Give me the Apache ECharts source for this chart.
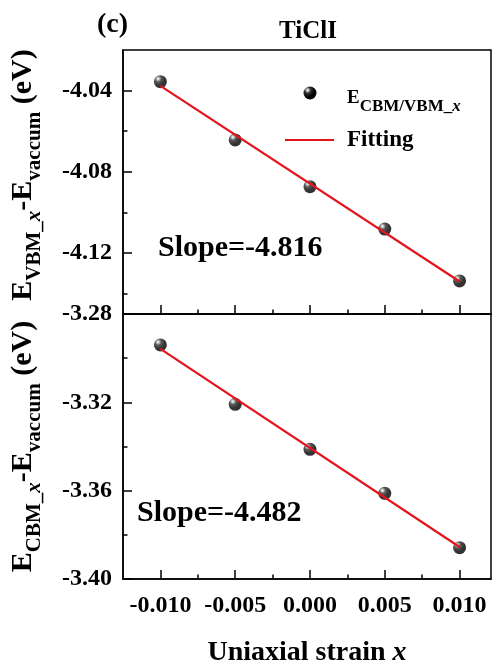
<!DOCTYPE html>
<html><head><meta charset="utf-8">
<script src="https://cdn.jsdelivr.net/npm/echarts@6/dist/echarts.min.js"></script>
<style>html,body{margin:0;padding:0;background:#fff}#c{width:494px;height:669px}</style>
</head><body><div id="c"></div>
<script>
// ---- data ----
const strain = [-0.010, -0.005, 0.000, 0.005, 0.010];
const vbmEnergy = [-4.0356, -4.0643, -4.0873, -4.1082, -4.1337];
const cbmEnergy = [-3.2940, -3.3209, -3.3413, -3.3612, -3.3858];
const fitStrain = [-0.010, 0.010];
const vbmFit = [-4.0377, -4.1340];
const cbmFit = [-3.2958, -3.3855];
const xMajorTicks = [-0.010, -0.005, 0.000, 0.005, 0.010];
const xMinorTicks = [-0.0075, -0.0025, 0.0025, 0.0075];
const vbmMajorTicks = [-4.12, -4.08, -4.04];
const vbmMinorTicks = [-4.14, -4.10, -4.06];
const cbmMajorTicks = [-3.40, -3.36, -3.32, -3.28];
const cbmMinorTicks = [-3.38, -3.34, -3.30];
const panelLabel = '(c)';
const chartTitle = 'TiClI';
const slopeVbm = 'Slope=-4.816';
const slopeCbm = 'Slope=-4.482';
const pointName = 'E_CBM/VBM_x';
const fitName = 'Fitting';

const FONT = "'Liberation Serif','Times New Roman',serif";
const BLACK = '#000';
const RED = '#e3141c';

const ball = () => ({
  type: 'radial', x: 0.32, y: 0.28, r: 0.8,
  colorStops: [
    {offset: 0, color: '#ffffff'},
    {offset: 0.1, color: '#c8c8c8'},
    {offset: 0.3, color: '#303030'},
    {offset: 0.65, color: '#000000'},
    {offset: 1, color: '#000000'}
  ]
});

function nameRich(shift) {
  return {
    m: {fontSize: 30, fontWeight: 'bold', fontFamily: FONT, color: BLACK, lineHeight: 32, padding: [0, 0, 7, 0], verticalAlign: 'bottom'},
    p: {fontSize: 30, fontWeight: 'bold', fontFamily: FONT, color: BLACK, lineHeight: 32, padding: [0, 0, 7, shift], verticalAlign: 'bottom'},
    s: {fontSize: 21, fontWeight: 'bold', fontFamily: FONT, color: BLACK, lineHeight: 22, verticalAlign: 'bottom'},
    i: {fontSize: 21, fontWeight: 'bold', fontStyle: 'italic', fontFamily: FONT, color: BLACK, lineHeight: 22, verticalAlign: 'bottom'}
  };
}

function majorX(grid, showLabels) {
  const ax = {
    gridIndex: grid, type: 'value', position: 'bottom',
    min: -0.0125, max: 0.0121,
    axisLine: {show: true, onZero: false, lineStyle: {color: BLACK, width: 1.5}},
    axisTick: {show: true, inside: true, length: 9, customValues: xMajorTicks, lineStyle: {color: BLACK, width: 1.5}},
    axisLabel: {show: showLabels, customValues: xMajorTicks, margin: 15,
      formatter: v => v.toFixed(3),
      fontFamily: FONT, fontWeight: 'bold', fontSize: 24, color: BLACK},
    splitLine: {show: false}
  };
  if (showLabels) {
    ax.name = '{b|Uniaxial strain }{i|x}';
    ax.nameLocation = 'middle';
    ax.nameGap = 60;
    ax.nameTextStyle = {rich: {
      b: {fontSize: 28, fontWeight: 'bold', fontFamily: FONT, color: BLACK},
      i: {fontSize: 28, fontWeight: 'bold', fontStyle: 'italic', fontFamily: FONT, color: BLACK}
    }};
  }
  return ax;
}
function minorX(grid) {
  return {
    gridIndex: grid, type: 'value', position: 'bottom',
    min: -0.0125, max: 0.0121,
    axisLine: {show: false, onZero: false},
    axisTick: {show: true, inside: true, length: 4.5, customValues: xMinorTicks, lineStyle: {color: BLACK, width: 1.5}},
    axisLabel: {show: false},
    splitLine: {show: false}
  };
}
function majorY(grid, min, max, ticks, name, shift) {
  return {
    gridIndex: grid, type: 'value', position: 'left',
    min: min, max: max,
    axisLine: {show: true, onZero: false, lineStyle: {color: BLACK, width: 1.5}},
    axisTick: {show: true, inside: true, length: 9, customValues: ticks, lineStyle: {color: BLACK, width: 1.5}},
    axisLabel: {show: true, customValues: ticks, margin: 11,
      formatter: v => v.toFixed(2),
      fontFamily: FONT, fontWeight: 'bold', fontSize: 24, color: BLACK},
    splitLine: {show: false},
    name: name, nameLocation: 'middle', nameRotate: 90, nameGap: 78,
    nameTextStyle: {rich: nameRich(shift)}
  };
}
function minorY(grid, min, max, ticks) {
  return {
    gridIndex: grid, type: 'value', position: 'left',
    min: min, max: max,
    axisLine: {show: false, onZero: false},
    axisTick: {show: true, inside: true, length: 4.5, customValues: ticks, lineStyle: {color: BLACK, width: 1.5}},
    axisLabel: {show: false},
    splitLine: {show: false}
  };
}

const pairs = (xs, ys) => xs.map((x, i) => [x, ys[i]]);

const legendRich = {
  e: {fontSize: 19, fontWeight: 'bold', fontFamily: FONT, fill: BLACK, lineHeight: 19, padding: [0, 0, 8, 0], verticalAlign: 'bottom'},
  s: {fontSize: 17, fontWeight: 'bold', fontFamily: FONT, fill: BLACK, lineHeight: 17, verticalAlign: 'bottom'},
  i: {fontSize: 17, fontWeight: 'bold', fontStyle: 'italic', fontFamily: FONT, fill: BLACK, lineHeight: 17, verticalAlign: 'bottom'}
};

const chart = echarts.init(document.getElementById('c'), null, {renderer: 'canvas'});
chart.setOption({
  animation: false,
  backgroundColor: '#fff',
  title: {
    text: chartTitle, left: 308, top: 19, textAlign: 'center', padding: 0,
    textStyle: {fontFamily: FONT, fontWeight: 'bold', fontSize: 25, color: BLACK}
  },
  grid: [
    {left: 119, top: 50, width: 372, height: 264, show: true, borderColor: BLACK, borderWidth: 1.5},
    {left: 119, top: 314, width: 372, height: 265, show: true, borderColor: BLACK, borderWidth: 1.5}
  ],
  xAxis: [majorX(0, false), minorX(0), majorX(1, true), minorX(1)],
  yAxis: [
    majorY(0, -4.15, -4.02, vbmMajorTicks, '{p|E}{s|VBM_}{i|x}{m|-E}{s|vaccum}{m| (eV)}', 14),
    minorY(0, -4.15, -4.02, vbmMinorTicks),
    majorY(1, -3.40, -3.28, cbmMajorTicks, '{p|E}{s|CBM_}{i|x}{m|-E}{s|vaccum}{m| (eV)}', 0),
    minorY(1, -3.40, -3.28, cbmMinorTicks)
  ],
  series: [
    {name: pointName, type: 'scatter', xAxisIndex: 0, yAxisIndex: 0, data: pairs(strain, vbmEnergy),
      symbol: 'circle', symbolSize: 13, itemStyle: {color: ball()}, z: 2},
    {name: fitName, type: 'line', xAxisIndex: 0, yAxisIndex: 0, data: pairs(fitStrain, vbmFit),
      symbol: 'none', lineStyle: {color: RED, width: 2.2}, itemStyle: {color: RED}, z: 3},
    {name: pointName, type: 'scatter', xAxisIndex: 2, yAxisIndex: 2, data: pairs(strain, cbmEnergy),
      symbol: 'circle', symbolSize: 13, itemStyle: {color: ball()}, z: 2},
    {name: fitName, type: 'line', xAxisIndex: 2, yAxisIndex: 2, data: pairs(fitStrain, cbmFit),
      symbol: 'none', lineStyle: {color: RED, width: 2.2}, itemStyle: {color: RED}, z: 3}
  ],
  graphic: [
    {type: 'text', x: 97, y: 25, style: {text: panelLabel, font: 'bold 28px ' + FONT, fill: BLACK, align: 'left', verticalAlign: 'middle'}},
    {type: 'text', x: 158, y: 248, style: {text: slopeVbm, font: 'bold 30px ' + FONT, fill: BLACK, align: 'left', verticalAlign: 'middle'}},
    {type: 'text', x: 137, y: 513, style: {text: slopeCbm, font: 'bold 30px ' + FONT, fill: BLACK, align: 'left', verticalAlign: 'middle'}},
    // legend
    {type: 'circle', shape: {cx: 310, cy: 93, r: 6.5}, style: {fill: ball()}, z: 10},
    {type: 'text', x: 347, y: 106, z: 10, style: {text: '{e|E}{s|CBM/VBM_}{i|x}', rich: legendRich, align: 'left', verticalAlign: 'middle'}},
    {type: 'line', shape: {x1: 285, y1: 140, x2: 334, y2: 140}, style: {stroke: RED, lineWidth: 2.2}, z: 10},
    {type: 'text', x: 347, y: 140, z: 10, style: {text: fitName, font: 'bold 23px ' + FONT, fill: BLACK, align: 'left', verticalAlign: 'middle'}}
  ]
});
</script>
</body></html>
